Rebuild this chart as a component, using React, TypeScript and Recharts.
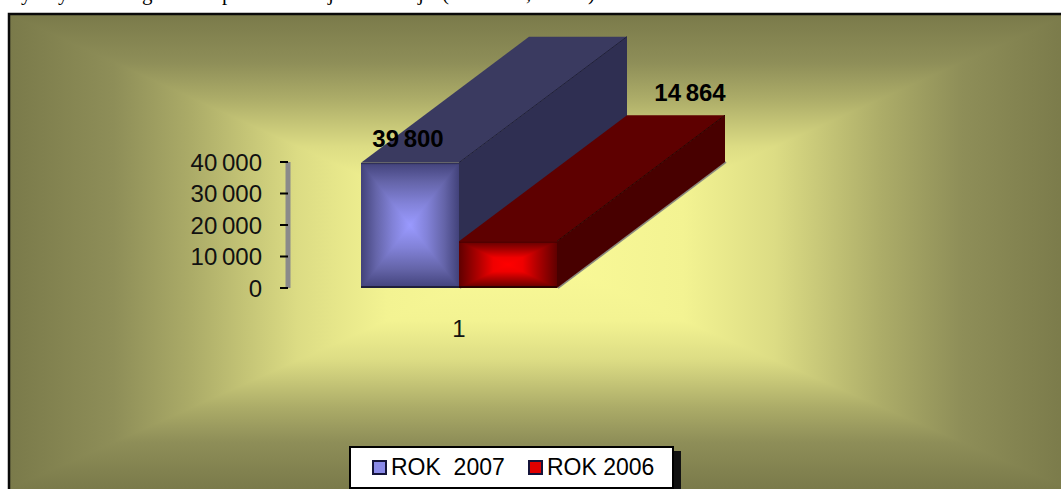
import { BarChart, Bar, XAxis, YAxis, Legend, LabelList } from 'recharts';

const categories = ['1'];
const rok2007 = [39800];
const rok2006 = [14864];
const yTicks = [0, 10000, 20000, 30000, 40000];
const clippedCaption: Array<[string, number]> = [['y', 21], ['y', 58], ['g', 142], ['p', 222], ['j', 328], ['j', 418], ['(', 442], [',', 526], [')', 588]];

const chartData = categories.map((name, i) => ({ name, rok2007: rok2007[i], rok2006: rok2006[i] }));

const SANS = '"Liberation Sans", Arial, sans-serif';
const DEPTH_X = 168;
const DEPTH_Y = 126;

// Thousands with a space, like the original
const formatNumber = (value: number) => String(value).replace(/\B(?=(\d{3})+$)/g, ' ');

// Office style "from centre" gradient: four triangles meeting in the middle
function RectGlow({ id, x, y, width, height, cx, cy, stops }: any) {
  const r = x + width;
  const b = y + height;
  const mx = cx ?? x + width / 2;
  const my = cy ?? y + height / 2;
  const grad = (suffix: string, x1: number, y1: number, x2: number, y2: number) => (
    <linearGradient id={id + suffix} x1={x1} y1={y1} x2={x2} y2={y2}>
      {stops.map(([o, c]: [number, string]) => <stop key={o} offset={o} stopColor={c} />)}
    </linearGradient>
  );
  return (
    <g shapeRendering="crispEdges">
      <defs>
        {grad('t', 0, 0, 0, 1)}
        {grad('b', 0, 1, 0, 0)}
        {grad('l', 0, 0, 1, 0)}
        {grad('r', 1, 0, 0, 0)}
      </defs>
      <polygon points={`${x},${y} ${r},${y} ${mx},${my}`} fill={`url(#${id}t)`} />
      <polygon points={`${x},${b} ${r},${b} ${mx},${my}`} fill={`url(#${id}b)`} />
      <polygon points={`${x},${y} ${x},${b} ${mx},${my}`} fill={`url(#${id}l)`} />
      <polygon points={`${r},${y} ${r},${b} ${mx},${my}`} fill={`url(#${id}r)`} />
    </g>
  );
}

const bluePrism = {
  id: 'blue',
  stops: [[0, '#42427a'], [0.3, '#6464a8'], [0.65, '#8282d8'], [1, '#9a9aff']],
  top: '#3a3a60',
  side: '#2f2f52',
  edge: '#20203c',
};
const redPrism = {
  id: 'red',
  stops: [[0, '#600000'], [0.4, '#b00000'], [0.7, '#f00000'], [1, '#ff0000']],
  top: '#5e0000',
  side: '#480000',
  edge: '#2c0000',
};

function Prism({ x, y, width, height, look }: any) {
  const r = x + width;
  const b = y + height;
  return (
    <g>
      <line x1={r + 1} y1={b} x2={r + DEPTH_X + 1} y2={b - DEPTH_Y} stroke="#8a8a80" strokeWidth={2} />
      <polygon points={`${x},${y} ${x + DEPTH_X},${y - DEPTH_Y} ${r + DEPTH_X},${y - DEPTH_Y} ${r},${y}`} fill={look.top} />
      <polygon points={`${r},${y} ${r + DEPTH_X},${y - DEPTH_Y} ${r + DEPTH_X},${b - DEPTH_Y} ${r},${b}`} fill={look.side} />
      <line x1={r} y1={y} x2={r + DEPTH_X} y2={y - DEPTH_Y} stroke={look.edge} strokeWidth={1} />
      <RectGlow id={look.id} x={x} y={y} width={width} height={height} stops={look.stops} />
      <line x1={x} y1={y + 1} x2={r} y2={y + 1} stroke={look.edge} strokeWidth={1} opacity={0.6} />
      <line x1={x} y1={b - 1} x2={r} y2={b - 1} stroke={look.edge} strokeWidth={2} />
    </g>
  );
}

function ValueLabel({ x, y, width, value, dx, dy }: any) {
  return (
    <text x={x + width / 2 + dx} y={y + dy} textAnchor="middle" fontFamily={SANS} fontSize={24} wordSpacing={-2} fontWeight="bold" fill="#000">
      {formatNumber(value)}
    </text>
  );
}

function LegendBox({ payload }: any) {
  return (
    <div style={{ boxSizing: 'border-box', width: 325, height: 43, background: '#fff', border: '2px solid #000', boxShadow: '7px 5px 0 #111', display: 'flex', alignItems: 'center', paddingLeft: 21, fontFamily: SANS, fontSize: 23, color: '#000', whiteSpace: 'pre' }}>
      {payload.map((item: any, i: number) => (
        <span key={item.value} style={{ display: 'flex', alignItems: 'center', width: i === 0 ? 156 : undefined }}>
          <span style={{ boxSizing: 'border-box', width: 15, height: 15, background: item.color, border: '2px solid #14143a', marginRight: 4 }} />
          {item.value}
        </span>
      ))}
    </div>
  );
}

const bgStops = [[0, '#7a7a4a'], [0.2, '#8e8e58'], [0.35, '#acac68'], [0.55, '#dcdc84'], [0.72, '#f3f392'], [1, '#fafa98']];

export default function App() {
  return (
    <div style={{ position: 'absolute', left: 0, top: 0, width: 1061, height: 489, overflow: 'hidden', background: '#fff' }}>
      {clippedCaption.map(([ch, left], i) => (
        <span key={i} style={{ position: 'absolute', left, top: -19, fontFamily: '"Liberation Serif", serif', fontSize: 21, lineHeight: '24px', color: '#000' }}>{ch}</span>
      ))}
      <svg width={1061} height={489} style={{ position: 'absolute', left: 0, top: 0 }}>
        <RectGlow id="bg" x={9} y={14} width={1060} height={475} cx={534} cy={255} stops={bgStops} />
        <path d="M9,489 V14 H1061" fill="none" stroke="#0a0a0a" strokeWidth={2.5} />
      </svg>
      <div style={{ position: 'absolute', left: 0, top: 0 }}>
        <BarChart width={1061} height={489} data={chartData} margin={{ top: 162, right: 431, bottom: 171, left: 88 }} barSize={98} barGap={0}>
          <YAxis
            width={200}
            domain={[0, 40000]}
            ticks={yTicks}
            interval={0}
            tickFormatter={formatNumber}
            axisLine={{ stroke: '#8a8a8a', strokeWidth: 5 }}
            tickLine={{ stroke: '#000', strokeWidth: 2 }}
            tickSize={8}
            tickMargin={18}
            tick={{ fill: '#111', fontFamily: SANS, fontSize: 24, wordSpacing: -2 }}
          />
          <XAxis dataKey="name" height={30} axisLine={false} tickLine={false} tickMargin={26} tick={{ fill: '#111', fontFamily: SANS, fontSize: 24 }} />
          <Legend
            layout="horizontal"
            verticalAlign="middle"
            align="center"
            wrapperStyle={{ position: 'absolute', left: 349, top: 446, width: 325, height: 43 }}
            content={(props: any) => <LegendBox payload={props.payload} />}
          />
          <Bar
            dataKey="rok2007"
            name="ROK  2007"
            fill="#8a8ae8"
            isAnimationActive={false}
            shape={(p: any) => <Prism {...p} look={bluePrism} />}
          >
            <LabelList dataKey="rok2007" content={(p: any) => <ValueLabel {...p} dx={-2} dy={-16} />} />
          </Bar>
          <Bar
            dataKey="rok2006"
            name="ROK 2006"
            fill="#e00000"
            isAnimationActive={false}
            shape={(p: any) => <Prism {...p} look={redPrism} />}
          >
            <LabelList dataKey="rok2006" content={(p: any) => <ValueLabel {...p} dx={182} dy={-140} />} />
          </Bar>
        </BarChart>
      </div>
    </div>
  );
}
